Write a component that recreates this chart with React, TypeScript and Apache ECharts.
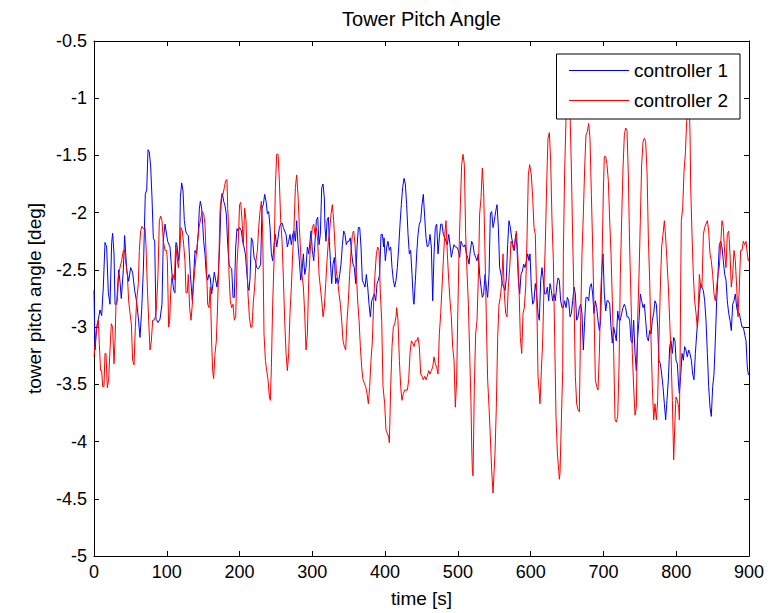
import React, { useEffect, useRef } from "react";
import * as echarts from "echarts";

const titleText = "Tower Pitch Angle";
const xName = "time [s]";
const yName = "tower pitch angle [deg]";
const seriesNames = ["controller 1", "controller 2"];
const xTicks = { min: 0, max: 900, interval: 100 };
const yTicks = { min: -5, max: -0.5, interval: 0.5 };

// controller 1: [time s, angle deg]
const controller1: number[][] = [
  [0,-2.68],[1.4,-3.2],[3.7,-3.0],[6,-2.93],[8.2,-2.85],[10.5,-2.9],[12.8,-2.65],[15.1,-2.26],[17.4,-2.3],[19.7,-2.7],
  [22,-2.8],[24.3,-2.26],[25.6,-2.18],[27.5,-2.36],[28.9,-2.8],[31.1,-2.8],[33.9,-2.5],[35.7,-2.6],[37.5,-2.75],[40.3,-2.5],
  [42.1,-2.2],[44.9,-2.5],[47.6,-2.6],[50.4,-2.48],[53,-2.52],[55.9,-2.68],[58.6,-2.78],[61.4,-2.95],[63.2,-3.09],[65.5,-2.85],
  [67.8,-2.5],[70.5,-1.84],[72.4,-1.8],[74.2,-1.45],[76,-1.47],[77.9,-1.6],[79.7,-1.87],[81.5,-2.22],[83.4,-2.25],[85.2,-2.93],
  [88,-2.96],[90.7,-2.93],[93.4,-2.8],[95.2,-2.24],[97.6,-2.10],[101.2,-2.25],[104.4,-2.30],[105.8,-2.42],[107.6,-2.57],[109.5,-2.68],
  [111.3,-2.70],[112.7,-2.26],[114,-2.28],[115.9,-2.42],[117.7,-2.30],[118.6,-1.87],[120.5,-1.74],[122.3,-1.81],[124.1,-2.07],[126,-2.16],
  [127.8,-2.19],[129.6,-2.20],[131,-2.36],[132.4,-2.54],[133.7,-2.65],[135.1,-2.77],[137,-2.54],[138.8,-2.33],[141.1,-2.36],[143.4,-2.16],
  [144.7,-1.97],[146.1,-1.90],[147.9,-1.96],[149.3,-2.10],[150.7,-2.25],[152.5,-2.36],[154.3,-2.54],[156.2,-2.59],[158,-2.54],[159.8,-2.57],
  [161.7,-2.71],[163.5,-2.62],[165.3,-2.52],[167.2,-2.59],[169,-2.65],[170.8,-2.54],[172.7,-2.28],[174.5,-1.93],[176.3,-1.83],[178.2,-1.90],
  [180,-1.94],[181.8,-2.01],[183.7,-2.28],[185.5,-2.45],[187.3,-2.48],[189.2,-2.49],[191,-2.74],[192.8,-2.74],[194.7,-2.30],[196.5,-2.14],
  [197.9,-2.16],[200.2,-2.13],[202.5,-2.16],[204.3,-2.25],[206.1,-2.30],[208,-2.36],[209.8,-2.51],[211.6,-2.65],[213,-2.68],[214.4,-2.57],
  [216.2,-2.22],[218.1,-2.25],[219.9,-2.39],[221.7,-2.42],[223.5,-2.48],[225.4,-2.49],[227.2,-2.48],[229,-2.45],[230.9,-1.96],[232.7,-1.93],
  [234.5,-1.84],[236.4,-1.90],[238.2,-2.01],[240,-1.99],[241.9,-2.13],[243.7,-2.36],[245.5,-2.42],[247.4,-2.28],[249.2,-2.19],[251,-2.30],
  [252.9,-2.22],[254.7,-2.13],[256.5,-2.10],[258.4,-2.09],[260.2,-2.13],[262,-2.16],[263.9,-2.19],[265.7,-2.30],[267.5,-2.25],[269.3,-2.19],
  [271.2,-2.28],[273,-2.19],[274.8,-2.16],[276.7,-2.25],[278.5,-2.07],[280.3,-2.28],[282.2,-2.42],[284,-2.59],[285.8,-2.51],[287.7,-2.36],
  [289.5,-2.54],[291.3,-2.48],[293.2,-2.30],[295,-2.36],[296.8,-2.25],[298.2,-2.16],[300,-2.33],[301.9,-2.42],[303.7,-2.25],[305.5,-2.07],
  [307.4,-2.04],[309.2,-2.28],[311,-2.19],[312.9,-1.78],[314.7,-1.75],[316.5,-1.87],[317.4,-2.13],[318.8,-2.25],[320.2,-2.07],[322,-2.04],
  [323.4,-2.25],[324.8,-2.42],[326.6,-2.62],[328.4,-2.45],[330.3,-2.39],[332.1,-2.62],[333.9,-2.57],[335.8,-2.62],[337.6,-2.54],[339.4,-2.45],
  [341.3,-2.28],[343.1,-2.16],[344.9,-2.19],[346.7,-2.28],[348.6,-2.25],[350.4,-2.25],[352.2,-2.22],[354.1,-2.36],[355.9,-2.45],[357.7,-2.48],
  [359.6,-2.62],[361.4,-2.30],[363.2,-2.13],[365.1,-2.13],[366.9,-2.30],[368.7,-2.59],[370.6,-2.62],[372.4,-2.65],[374.2,-2.54],[376.1,-2.65],
  [377.9,-2.80],[379.7,-2.91],[381.6,-2.77],[383.4,-2.74],[385.2,-2.71],[387.1,-2.77],[388.9,-2.62],[390.7,-2.59],[392.5,-2.54],[394.4,-2.19],
  [396.2,-2.19],[398,-2.30],[398.5,-2.22],[400.3,-2.42],[402.2,-2.30],[404,-2.25],[405.8,-2.33],[407.7,-2.30],[409.5,-2.48],[411.3,-2.59],
  [413.2,-2.65],[415,-2.59],[416.8,-2.48],[418.7,-2.30],[420.5,-2.10],[422.3,-1.93],[424.1,-1.78],[426,-1.70],[427.8,-1.75],[429.6,-1.93],
  [431.5,-2.19],[433.3,-2.36],[435.1,-2.33],[437,-2.54],[438.8,-2.77],[439.7,-2.80],[441.6,-2.59],[443.4,-2.36],[445.2,-2.19],[447,-2.10],
  [448.9,-2.07],[450.7,-1.93],[452.5,-1.84],[454.4,-2.04],[456.2,-2.22],[458,-2.30],[459.9,-2.28],[461.7,-2.19],[463.5,-2.30],[465.4,-2.77],
  [467.2,-2.36],[469,-2.13],[470.9,-2.10],[472.7,-2.36],[474.5,-2.22],[476.4,-2.10],[478.2,-2.10],[480,-2.19],[481.9,-2.22],[483.7,-2.25],
  [485.5,-2.28],[487.4,-2.19],[489.2,-2.28],[491,-2.39],[492.8,-2.33],[494.7,-2.28],[496.5,-2.30],[498.3,-2.30],[500.6,-2.33],[502.5,-2.39],
  [504.3,-2.25],[506.1,-2.28],[508,-2.30],[509.8,-2.28],[511.6,-2.36],[513.5,-2.39],[515.3,-2.45],[517.1,-2.33],[519,-2.25],[520.8,-2.28],
  [522.6,-2.36],[524.4,-2.39],[526.3,-2.42],[528.1,-2.36],[529.9,-2.54],[531.8,-2.65],[533.6,-2.74],[535.4,-2.71],[537.3,-2.54],[539.1,-2.65],
  [540.9,-2.74],[542.8,-2.54],[544.6,-2.01],[546.4,-1.99],[548.3,-2.13],[550.1,-2.07],[551.9,-1.99],[553.8,-1.93],[555.6,-2.13],[557.4,-2.48],
  [559.3,-2.54],[561.1,-2.62],[562.9,-2.65],[564.8,-2.68],[566.6,-2.57],[568.4,-2.28],[570.2,-2.07],[572.1,-2.13],[573.9,-2.22],[575.7,-2.28],
  [577.6,-2.33],[579.4,-2.19],[581.2,-2.30],[583.1,-2.59],[584.9,-2.71],[586.7,-2.54],[588.6,-2.51],[590.4,-2.45],[592.2,-2.48],[594.1,-2.42],
  [595.9,-2.36],[597.7,-2.42],[599.1,-2.36],[600.9,-2.65],[602.8,-2.80],[604.6,-2.77],[606.4,-2.62],[608.3,-2.71],[610.1,-2.88],[611.9,-2.94],
  [613.8,-2.59],[615.6,-2.48],[617.4,-2.59],[619.3,-2.71],[621.1,-2.71],[622.9,-2.65],[624.7,-2.77],[626.6,-2.62],[628.4,-2.68],[630.2,-2.77],
  [632.1,-2.71],[633.9,-2.77],[635.7,-2.65],[637.6,-2.57],[639.4,-2.59],[641.2,-2.77],[643.1,-2.83],[644.9,-2.83],[646.7,-2.77],[648.6,-2.83],
  [650.4,-2.74],[652.2,-2.77],[654.1,-2.91],[655.9,-2.88],[657.7,-2.77],[659.6,-2.65],[661.4,-2.71],[663.2,-2.94],[665.1,-2.91],[666.9,-2.83],
  [668.7,-2.80],[670.5,-2.88],[672.4,-3.20],[674.2,-2.94],[676,-2.74],[677.9,-2.74],[679.7,-2.77],[681.5,-2.65],[683.4,-2.62],[685.2,-2.71],
  [687,-2.88],[688.9,-2.77],[690.7,-2.83],[692.5,-2.94],[694.4,-3.03],[696.2,-2.94],[698,-2.48],[699.4,-2.36],[701.2,-2.71],[703.1,-2.86],
  [704.9,-2.77],[706.7,-2.77],[708.6,-2.80],[710.4,-3.00],[712.2,-3.14],[714.1,-3.00],[715.9,-3.06],[717.7,-3.12],[719.6,-2.86],[721.4,-2.94],
  [723.2,-2.94],[725,-2.88],[726.9,-2.83],[728.7,-2.80],[730.5,-2.83],[732.4,-2.91],[734.2,-2.91],[736,-2.94],[737.9,-3.12],[739.7,-3.14],
  [741.5,-2.94],[743.4,-3.23],[745.2,-3.38],[747,-3.09],[748.9,-2.94],[750.7,-2.71],[752.5,-2.77],[754.4,-2.83],[756.2,-2.80],[758,-2.94],
  [759.9,-3.09],[761.7,-3.12],[763.5,-3.03],[765.4,-3.06],[767.2,-2.94],[769,-2.88],[770.8,-2.77],[772.7,-2.80],[774.5,-3.00],[776.3,-3.29],
  [778.2,-3.32],[780,-3.41],[781.8,-3.52],[783.7,-3.67],[785.5,-3.81],[787.3,-3.64],[789.2,-3.46],[791,-3.17],[792.8,-3.12],[794.7,-3.23],
  [796.5,-3.09],[798.3,-3.12],[799.7,-3.29],[801.5,-3.32],[803.4,-3.52],[804.3,-3.58],[806.1,-3.43],[808,-3.23],[809.8,-3.29],[811.6,-3.17],
  [813.4,-3.20],[815.3,-3.26],[817.1,-3.20],[818.9,-3.23],[820.8,-3.29],[822.6,-3.41],[824.4,-3.46],[826.3,-3.23],[828.1,-3.06],[829.9,-2.91],
  [831.8,-2.74],[833.6,-2.62],[835.4,-2.65],[837.3,-2.68],[839.1,-2.77],[840.9,-2.94],[842.8,-3.23],[844.6,-3.52],[846.4,-3.70],[848.2,-3.78],
  [850.1,-3.52],[851.9,-3.41],[853.7,-3.12],[855.6,-2.77],[857.4,-2.54],[859.2,-2.28],[861.1,-2.25],[862.9,-2.30],[864.7,-2.42],[866.6,-2.54],
  [868.4,-2.59],[870.2,-2.77],[872.1,-2.88],[873.9,-2.94],[875.7,-3.03],[877.6,-2.80],[879.4,-2.77],[881.2,-2.71],[883.1,-2.83],[884.9,-2.88],
  [886.7,-2.88],[888.5,-2.94],[890.4,-3.00],[892.2,-3.00],[894,-3.06],[895.9,-3.12],[897.7,-3.35],[899,-3.41],[900,-3.42]
];

// controller 2: [time s, angle deg]
const controller2: number[][] = [
  [0,-3.26],[1.4,-3.15],[3.7,-3.0],[6,-2.94],[7.3,-3.15],[9.1,-3.38],[10.5,-3.38],[12,-3.52],[13.7,-3.52],[15.1,-3.23],
  [16.5,-3.23],[18.3,-3.53],[20.1,-3.46],[22,-3.2],[23.8,-2.97],[25.6,-3.0],[27.5,-3.32],[28.9,-3.12],[30.2,-2.8],[32,-2.77],
  [33.9,-2.54],[35.7,-2.48],[38,-2.42],[40.3,-2.33],[42.1,-2.33],[44,-2.45],[45.8,-2.54],[47.6,-2.77],[49.5,-2.88],[51.3,-2.97],
  [53.1,-3.29],[55,-3.33],[56.8,-3.0],[58.6,-2.77],[60.9,-2.62],[62.3,-2.33],[64.1,-2.16],[65.9,-2.12],[67.8,-2.14],[70.1,-2.13],
  [71.4,-2.28],[73.3,-2.65],[75.1,-2.94],[77,-3.2],[78.8,-3.12],[80.6,-2.94],[82.4,-2.94],[84.3,-2.91],[86.1,-2.8],[87.9,-2.54],
  [89.8,-2.07],[91.6,-2.03],[93.4,-2.07],[95.3,-2.25],[97.6,-2.33],[99.8,-2.33],[100.8,-2.42],[101.7,-2.71],[102.6,-3.00],[104,-2.94],
  [105.3,-2.71],[106.7,-2.57],[108.5,-2.54],[110.4,-2.59],[112.2,-2.28],[114,-2.39],[115.9,-2.48],[117.7,-2.36],[119.5,-2.13],[121.4,-2.16],
  [123.2,-2.28],[125,-2.42],[126.4,-2.70],[128.2,-2.70],[129.6,-2.54],[131.4,-2.83],[133.3,-2.94],[135.1,-2.80],[136.9,-2.62],[138.8,-2.48],
  [140.6,-2.36],[142.4,-2.25],[144.3,-2.13],[147,-2.04],[148.8,-1.99],[150.7,-2.01],[152.5,-2.10],[154.3,-2.42],[156.2,-2.80],[158,-2.83],
  [159.8,-2.65],[161.7,-3.14],[163,-3.38],[164.4,-3.45],[166.3,-3.23],[168.1,-3.12],[169.9,-2.80],[171.8,-2.36],[173.1,-1.99],[175.4,-1.84],
  [177.2,-1.84],[179.1,-1.78],[180.9,-1.72],[182.7,-1.71],[183.7,-1.96],[184.6,-2.07],[185.5,-2.54],[187.3,-2.77],[189.2,-2.83],[191,-2.80],
  [192.8,-2.94],[194.7,-2.91],[196.5,-2.45],[198.3,-2.25],[200,-1.93],[201.6,-1.91],[203.4,-2.07],[205.2,-2.28],[207,-1.96],[208.9,-2.07],
  [209.8,-2.28],[210.7,-2.54],[211.6,-2.71],[213.5,-2.91],[215.3,-3.0],[217.1,-3.0],[219,-2.77],[220.8,-2.65],[222.6,-2.42],[224.5,-2.33],
  [226.3,-2.13],[228.1,-1.99],[230,-1.90],[231.8,-2.16],[233.6,-3.06],[235.5,-3.29],[237.3,-3.38],[239.1,-3.46],[241,-3.61],[242.3,-3.64],
  [243.7,-3.35],[245.5,-2.80],[247.4,-2.42],[249.2,-1.78],[251,-1.49],[252.9,-1.49],[254.7,-1.72],[256.5,-2.07],[258.4,-2.25],[260.2,-2.57],
  [262,-2.94],[263.9,-3.23],[265.7,-3.38],[267.5,-3.23],[269.3,-2.88],[271.2,-2.65],[273,-2.36],[274.8,-2.13],[276.7,-1.78],[278.5,-1.67],
  [280.3,-1.84],[282.2,-2.13],[284,-2.36],[285.8,-2.54],[287.7,-2.65],[289.5,-2.88],[291.3,-3.20],[293.2,-3.06],[295,-2.59],[296.8,-2.36],
  [298.2,-2.25],[300,-2.13],[301.9,-2.10],[303.7,-2.19],[305.5,-2.13],[307.4,-2.25],[309.2,-2.54],[311,-2.65],[312.9,-2.77],[314.7,-2.91],
  [316.5,-2.83],[318.4,-2.62],[320.2,-2.42],[322,-2.25],[323.8,-2.16],[325.7,-2.01],[327.5,-1.93],[329.3,-2.07],[331.2,-2.30],[333,-2.51],
  [334.8,-2.59],[336.7,-2.71],[338.5,-2.80],[340.3,-2.94],[342.2,-3.12],[344,-3.17],[345.8,-3.20],[347.7,-2.94],[349.5,-2.77],[351.3,-2.54],
  [353.2,-2.33],[355,-2.19],[356.8,-2.16],[358.7,-2.28],[360.5,-2.54],[362.3,-2.77],[364.2,-2.94],[366,-3.17],[367.8,-3.35],[369.6,-3.46],
  [371.5,-3.49],[373.3,-3.52],[375.1,-3.58],[377,-3.67],[378.8,-3.52],[380.6,-3.29],[382.5,-3.12],[384.3,-2.77],[386.1,-2.54],[388,-2.36],
  [389.8,-2.30],[391.6,-2.33],[393.5,-2.71],[395.3,-2.94],[397.1,-3.52],[399.4,-3.67],[401.2,-3.90],[403.1,-3.93],[404.9,-3.96],[405.8,-4.01],
  [407.7,-3.52],[409.5,-3.17],[411.3,-3.00],[413.2,-2.97],[415,-2.91],[415.9,-2.83],[417.7,-2.94],[419.6,-3.29],[421.4,-3.52],[423.2,-3.64],
  [425.1,-3.58],[426.9,-3.55],[428.7,-3.55],[430.6,-3.55],[432.4,-3.46],[434.2,-3.23],[436.1,-3.12],[437.9,-3.14],[439.7,-3.17],[441.6,-3.12],
  [443.4,-3.12],[445.2,-3.09],[447,-3.17],[448.9,-3.41],[450.7,-3.43],[452.5,-3.46],[454.4,-3.43],[456.2,-3.46],[458,-3.43],[459.9,-3.38],
  [461.7,-3.41],[463.5,-3.38],[465.4,-3.35],[467.2,-3.26],[469,-3.32],[470.9,-3.35],[472.7,-3.41],[474.5,-3.06],[476.4,-2.88],[478.2,-2.65],
  [480,-2.42],[481.9,-2.19],[483.7,-2.07],[485.5,-2.36],[487.4,-2.59],[489.2,-2.77],[491,-2.91],[492.8,-3.17],[494.7,-3.29],[496.5,-3.70],
  [498.3,-3.46],[499.7,-2.94],[501.5,-2.36],[503.4,-1.93],[505.2,-1.58],[507,-1.49],[508.9,-1.58],[510.7,-2.19],[512.5,-2.51],[514.4,-2.80],
  [516.2,-3.23],[518,-3.67],[519,-4.04],[519.9,-4.25],[520.8,-4.30],[522.6,-3.52],[524.4,-3.06],[526.3,-2.94],[528.1,-2.57],[529.9,-2.01],
  [531.8,-1.87],[533.6,-1.61],[535.4,-1.81],[537.3,-2.36],[539.1,-2.94],[540.9,-3.46],[542.8,-3.70],[544.6,-3.96],[546.4,-4.25],[548.3,-4.45],
  [549.2,-4.45],[551,-4.10],[552.8,-3.70],[554.7,-3.09],[556.5,-2.80],[558.3,-2.74],[560.2,-2.62],[562,-2.36],[563.8,-2.71],[565.7,-2.88],
  [567.5,-2.91],[569.3,-2.65],[571.2,-2.48],[573,-2.25],[574.8,-2.28],[576.7,-2.33],[578.5,-2.25],[580.3,-2.16],[582.2,-2.36],[584,-2.65],
  [585.8,-3.09],[587.7,-3.23],[589.5,-2.88],[591.3,-2.83],[593.2,-2.65],[595,-2.22],[596.8,-1.67],[598.6,-1.58],[600.9,-1.67],[602.8,-1.87],
  [604.6,-2.13],[606.4,-2.19],[608.3,-2.74],[610.1,-3.43],[611.9,-3.58],[612.8,-3.67],[614.7,-3.38],[616.5,-3.12],[618.3,-2.65],[620.2,-2.25],
  [622,-1.75],[623.8,-1.35],[625.7,-1.30],[627.5,-1.55],[629.3,-2.07],[631.2,-2.42],[633,-3.09],[634.8,-3.78],[636.7,-4.10],[638.5,-4.25],
  [639.4,-4.33],[640.3,-4.28],[642.2,-3.81],[644,-3.38],[644.9,-2.36],[646.7,-1.64],[648.6,-1.17],[650.4,-1.10],[653.1,-1.10],[654.1,-1.12],
  [655.9,-1.61],[657.7,-2.22],[659.6,-2.77],[661.4,-3.43],[663.2,-3.67],[665.1,-3.72],[666.9,-3.74],[668.7,-2.94],[670.5,-2.36],[672.4,-2.01],
  [674.2,-1.61],[676,-1.32],[677.9,-1.29],[679.7,-1.22],[681.5,-1.35],[683.4,-1.84],[685.2,-2.30],[687,-2.83],[688.9,-3.46],[690.7,-3.52],
  [692.5,-3.55],[694.4,-3.23],[696.2,-2.71],[698,-2.45],[699.9,-1.81],[701.2,-1.51],[703.1,-1.51],[704.9,-1.58],[706.7,-1.72],[708.6,-2.07],
  [710.4,-2.36],[712.2,-2.77],[714.1,-3.23],[715.9,-3.81],[717.7,-3.83],[719.6,-3.78],[721.4,-3.35],[723.2,-2.54],[725,-2.07],[726.9,-1.61],
  [728.7,-1.32],[730.5,-1.26],[732.4,-1.28],[734.2,-1.67],[736,-2.30],[737.9,-2.77],[739.7,-3.23],[741.5,-3.52],[743.4,-3.77],[745.2,-3.70],
  [747,-2.94],[748.9,-2.54],[750.7,-2.07],[752.5,-1.58],[754.4,-1.38],[756.2,-1.35],[758,-1.38],[759.9,-1.64],[761.7,-2.22],[763.5,-2.59],
  [765.4,-3.12],[767.2,-3.52],[769,-3.81],[770.8,-3.67],[772.7,-3.81],[774.5,-3.64],[776.3,-3.12],[778.2,-2.65],[780,-2.30],[781.8,-2.19],
  [783.7,-2.07],[785.5,-2.22],[787.3,-2.42],[789.2,-2.65],[791,-2.94],[792.8,-3.23],[794.7,-3.64],[796.5,-4.16],[798.3,-3.81],[799.7,-3.61],
  [801.5,-3.64],[803.4,-3.70],[804.3,-3.81],[805.2,-3.38],[806.1,-2.65],[807,-2.07],[808.9,-1.96],[810.7,-1.64],[812.5,-1.49],[814.4,-1.20],
  [816.2,-1.10],[818,-1.08],[819,-1.32],[819.9,-1.78],[821.7,-2.19],[823.5,-2.54],[825.3,-2.77],[827.2,-2.88],[829,-3.00],[829.9,-2.94],
  [831.8,-2.54],[833.6,-2.65],[835.4,-2.65],[837.3,-2.19],[839.1,-2.13],[840.9,-2.10],[842.8,-2.07],[844.6,-2.16],[846.4,-2.36],[848.2,-2.42],
  [850.1,-2.54],[851.9,-2.71],[853.7,-2.77],[855.6,-2.65],[857.4,-2.54],[859.2,-2.48],[861.1,-2.28],[862.9,-2.07],[864.7,-2.13],[866.6,-2.36],
  [868.4,-2.48],[870.2,-2.19],[872.1,-2.16],[873.9,-2.36],[875.7,-2.65],[877.6,-2.54],[879.4,-2.33],[881.2,-2.42],[883.1,-2.65],[884.9,-2.91],
  [886.7,-2.65],[888.5,-2.33],[890.4,-2.33],[892.2,-2.25],[894,-2.28],[895.9,-2.25],[897.7,-2.36],[899,-2.42],[900,-2.40]
];

const FONT = "'Liberation Sans', Arial, Helvetica, sans-serif";
const FS_TICK = 18;
const FS_TEXT = 19;
const FS_TITLE = 20;

export default function App() {
  const ref = useRef<HTMLDivElement>(null);
  useEffect(() => {
    if (!ref.current) return;
    const chart = echarts.init(ref.current, null, { renderer: "svg" });
    const axisLine = { show: true, onZero: false, lineStyle: { color: "#000", width: 1 } };
    const axisTick = { show: true, inside: true, length: 5, lineStyle: { color: "#000", width: 1 } };
    const label = { color: "#000", fontSize: FS_TICK, fontFamily: FONT };
    chart.setOption({
      animation: false,
      backgroundColor: "#fff",
      textStyle: { fontFamily: FONT },
      grid: { left: 94, top: 41, width: 655, height: 519, containLabel: false },
      graphic: [
        {
          type: "text",
          x: 421.5,
          y: 19,
          style: { text: titleText, fontSize: FS_TITLE, fontFamily: FONT, fill: "#000", align: "center", verticalAlign: "middle" },
        },
      ],
      legend: {
        data: seriesNames,
        orient: "vertical",
        right: 33,
        top: 54,
        padding: [7, 12, 9, 12],
        itemGap: 11,
        itemWidth: 60,
        itemHeight: 17,
        borderColor: "#000",
        borderWidth: 1,
        backgroundColor: "#fff",
        borderRadius: 0,
        itemStyle: { opacity: 0 },
        lineStyle: { width: 1 },
        textStyle: { color: "#000", fontSize: FS_TEXT, fontFamily: FONT },
        z: 10,
      },
      xAxis: [
        {
          type: "value",
          position: "bottom",
          min: xTicks.min,
          max: xTicks.max,
          interval: xTicks.interval,
          axisLine,
          axisTick,
          axisLabel: { ...label, margin: 7 },
          splitLine: { show: false },
          name: xName,
          nameLocation: "middle",
          nameGap: 33,
          nameTextStyle: { color: "#000", fontSize: FS_TEXT, fontFamily: FONT },
        },
        {
          type: "value",
          position: "top",
          min: xTicks.min,
          max: xTicks.max,
          interval: xTicks.interval,
          axisLine,
          axisTick,
          axisLabel: { show: false },
          splitLine: { show: false },
        },
      ],
      yAxis: [
        {
          type: "value",
          position: "left",
          min: yTicks.min,
          max: yTicks.max,
          interval: yTicks.interval,
          axisLine,
          axisTick,
          axisLabel: { ...label, margin: 7 },
          splitLine: { show: false },
          name: yName,
          nameLocation: "middle",
          nameGap: 50,
          nameTextStyle: { color: "#000", fontSize: FS_TEXT, fontFamily: FONT },
        },
        {
          type: "value",
          position: "right",
          min: yTicks.min,
          max: yTicks.max,
          interval: yTicks.interval,
          axisLine,
          axisTick,
          axisLabel: { show: false },
          splitLine: { show: false },
        },
      ],
      series: [
        {
          name: seriesNames[0],
          type: "line",
          data: controller1,
          symbol: "none",
          showSymbol: false,
          lineStyle: { color: "#0000ff", width: 1 },
          itemStyle: { color: "#0000ff" },
          z: 2,
        },
        {
          name: seriesNames[1],
          type: "line",
          data: controller2,
          symbol: "none",
          showSymbol: false,
          lineStyle: { color: "#ff0000", width: 1 },
          itemStyle: { color: "#ff0000" },
          z: 3,
        },
      ],
    });
    return () => chart.dispose();
  }, []);
  return <div ref={ref} style={{ position: "absolute", left: 0, top: 0, width: 773, height: 613 }} />;
}
